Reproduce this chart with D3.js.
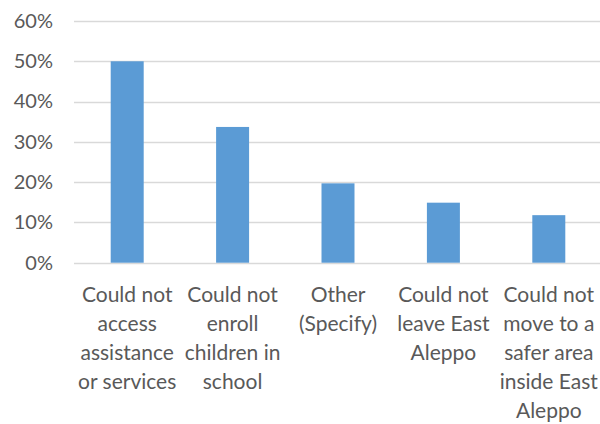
<!DOCTYPE html>
<html>
<head>
<meta charset="utf-8">
<script src="https://cdn.jsdelivr.net/npm/d3@7"></script>
<style>
  html, body { margin: 0; padding: 0; background: #fff; }
  svg { display: block; }
  text { font-family: Lato, "Liberation Sans", sans-serif; fill: #595959; }
</style>
</head>
<body>
<script>
const categories = [
  "Could not access assistance or services",
  "Could not enroll children in school",
  "Other (Specify)",
  "Could not leave East Aleppo",
  "Could not move to a safer area inside East Aleppo"
];
const labelLines = [
  ["Could not", "access", "assistance", "or services"],
  ["Could not", "enroll", "children in", "school"],
  ["Other", "(Specify)"],
  ["Could not", "leave East", "Aleppo"],
  ["Could not", "move to a", "safer area", "inside East", "Aleppo"]
];
const values = [0.50, 0.337, 0.197, 0.149, 0.118];
const yTicks = [0, 0.1, 0.2, 0.3, 0.4, 0.5, 0.6];

const W = 600, H = 424;
const svg = d3.select("body").append("svg").attr("width", W).attr("height", H);

const x = d3.scaleBand().domain(categories).range([74.5, 601.5])
  .paddingInner(0.687).paddingOuter(0.3435);
const y = d3.scaleLinear().domain([0, 0.6]).range([262.7, 21]);

// gridlines
svg.append("g").selectAll("line").data(yTicks).join("line")
  .attr("x1", 74).attr("x2", 600)
  .attr("y1", d => Math.round(y(d)) + 0.5).attr("y2", d => Math.round(y(d)) + 0.5)
  .attr("stroke", "#D9D9D9").attr("stroke-width", 1.3);

// y axis labels
const yAxis = d3.axisLeft(y).tickValues(yTicks).tickFormat(d3.format(".0%")).tickSize(0).tickPadding(0);
const ya = svg.append("g").attr("transform", "translate(53,0)").call(yAxis);
ya.select(".domain").remove();
ya.selectAll("text").attr("font-size", 20).style("font-family", "Lato, 'Liberation Sans', sans-serif").attr("fill", "#595959");

// bars
svg.append("g").selectAll("rect").data(values).join("rect")
  .attr("x", (d, i) => x(categories[i]))
  .attr("width", x.bandwidth())
  .attr("y", d => y(d))
  .attr("height", d => y(0) - y(d))
  .attr("fill", "#5B9BD5");

// x labels
const xl = svg.append("g").selectAll("text").data(categories).join("text")
  .attr("text-anchor", "middle")
  .attr("font-size", 21)
  .attr("x", d => x(d) + x.bandwidth() / 2)
  .attr("y", 302);
xl.each(function(d, i) {
  d3.select(this).selectAll("tspan").data(labelLines[i]).join("tspan")
    .attr("x", x(d) + x.bandwidth() / 2)
    .attr("dy", (t, j) => j === 0 ? 0 : 29)
    .text(t => t);
});
</script>
</body>
</html>
